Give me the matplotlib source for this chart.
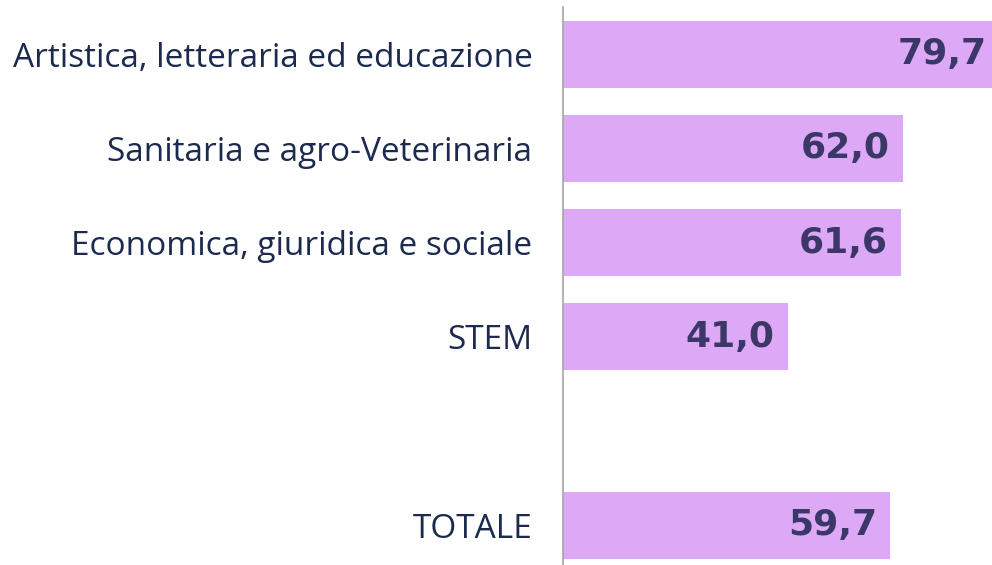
import matplotlib
matplotlib.use("Agg")
import matplotlib.pyplot as plt

categories = ["Artistica, letteraria ed educazione", "Sanitaria e agro-Veterinaria",
              "Economica, giuridica e sociale", "STEM", "TOTALE"]
values = [79.7, 62.0, 61.6, 41.0, 59.7]
positions = [0, 1, 2, 3, 5]
value_labels = ["79,7", "62,0", "61,6", "41,0", "59,7"]

fig = plt.figure(figsize=(9.92, 5.65), dpi=100)
ax = fig.add_axes([563/992, 0, 1 - 563/992, 1 - 7/565])
bars = ax.barh(positions, values, height=0.71, color="#DDA8F5", zorder=2)
ax.set_xlim(0, 78.3)
ax.set_ylim(5.42, -0.5)
ax.set_yticks(positions)
ax.set_yticklabels(categories, fontsize=24, color="#1B2A4E", family="Open Sans")
ax.tick_params(axis="y", length=0, pad=22)
ax.set_xticks([])
for s in ["top", "right", "bottom"]:
    ax.spines[s].set_visible(False)
ax.spines["left"].set_color("#A6A6A6")
ax.spines["left"].set_linewidth(1.2)
for p, v, lab in zip(positions, values, value_labels):
    ax.annotate(lab, xy=(v, p), xytext=(-9.5, 0), textcoords="offset points",
                ha="right", va="center", fontsize=26, fontweight="bold",
                color="#3B3868", family="DejaVu Sans", annotation_clip=False)
fig.savefig("out.png", dpi=100)
